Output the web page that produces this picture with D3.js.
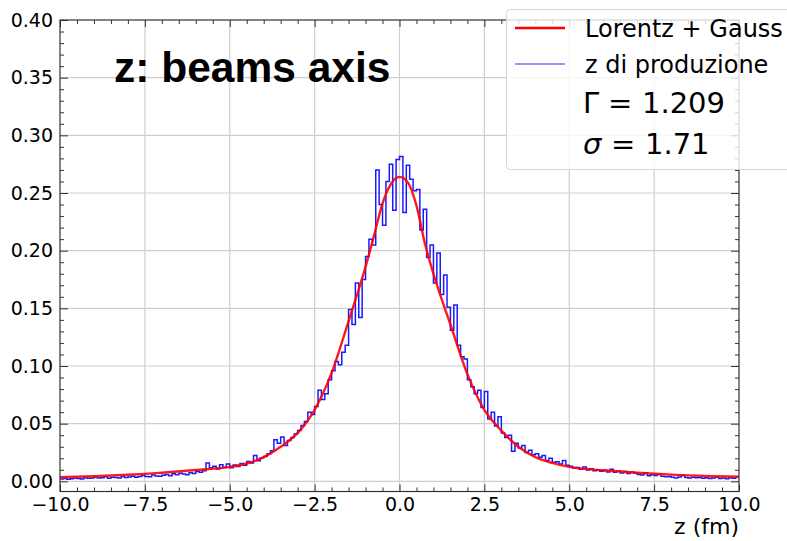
<!DOCTYPE html>
<html>
<head>
<meta charset="utf-8">
<script src="https://cdn.jsdelivr.net/npm/d3@7"></script>
<style>
  body { margin: 0; background: #fff; }
  svg { display: block; }
  .tick text { font-family: "DejaVu Sans", sans-serif; font-size: 19px; fill: #000; }
</style>
</head>
<body>
<svg id="chart" width="787" height="541"></svg>
<script>
// fitted curve (Lorentz + Gauss)
var fitZ = [-10, -9, -8, -7.5, -7, -6, -5, -4.5, -4, -3.5, -3, -2.5, -2, -1.5, -1, -0.75, -0.5, -0.25, 0,
            0.25, 0.5, 0.75, 1, 1.5, 2, 2.5, 3, 3.5, 4, 4.5, 5, 6, 7, 7.5, 8, 9, 10];
var fitY = [0.0036, 0.0044, 0.0057, 0.0065, 0.0075, 0.0098, 0.0125, 0.0155, 0.021, 0.030, 0.042, 0.062, 0.094, 0.139, 0.186, 0.213, 0.241, 0.258, 0.264,
            0.259, 0.239, 0.206, 0.180, 0.136, 0.093, 0.062, 0.044, 0.030, 0.021, 0.016, 0.0125, 0.0096, 0.0075, 0.0066, 0.0058, 0.0046, 0.0040];

// histogram of production z, bins of 0.1 fm starting at -10
var binStart = -10, binWidth = 0.1;
var histY = [
  0.0020, 0.0025, 0.0018, 0.0022, 0.0030, 0.0024, 0.0021, 0.0032, 0.0026, 0.0029,
  0.0035, 0.0028, 0.0031, 0.0040, 0.0027, 0.0036, 0.0033, 0.0030, 0.0042, 0.0034,
  0.0038, 0.0045, 0.0036, 0.0041, 0.0050, 0.0043, 0.0039, 0.0055, 0.0047, 0.0044,
  0.0052, 0.0060, 0.0049, 0.0066, 0.0058, 0.0071, 0.0063, 0.0057, 0.0075, 0.0068,
  0.0085, 0.0078, 0.0092, 0.0160, 0.0118, 0.0132, 0.0108, 0.0145, 0.0122, 0.0150,
  0.0118, 0.0142, 0.0128, 0.0155, 0.0140, 0.0172, 0.0160, 0.0225, 0.0178, 0.0205,
  0.0215, 0.0240, 0.0265, 0.0360, 0.0330, 0.0385, 0.0310, 0.0355, 0.0380, 0.0410,
  0.0440, 0.0485, 0.0520, 0.0600, 0.0580, 0.0650, 0.0790, 0.0710, 0.0760, 0.0880,
  0.0960, 0.1040, 0.1010, 0.1120, 0.1180, 0.1490, 0.1360, 0.1720, 0.1420, 0.1750,
  0.1950, 0.2100, 0.2050, 0.2700, 0.2400, 0.2220, 0.2600, 0.2750, 0.2350, 0.2790,
  0.2816, 0.2330, 0.2740, 0.2620, 0.2520, 0.2530, 0.2180, 0.2360, 0.1940, 0.2050,
  0.1720, 0.1980, 0.1620, 0.1790, 0.1510, 0.1310, 0.1530, 0.1180, 0.1080, 0.1060,
  0.0880, 0.0820, 0.0760, 0.0790, 0.0640, 0.0780, 0.0540, 0.0600, 0.0480, 0.0560,
  0.0420, 0.0380, 0.0400, 0.0260, 0.0330, 0.0290, 0.0310, 0.0250, 0.0270, 0.0230,
  0.0240, 0.0210, 0.0225, 0.0180, 0.0200, 0.0165, 0.0170, 0.0150, 0.0180, 0.0140,
  0.0130, 0.0115, 0.0120, 0.0105, 0.0125, 0.0098, 0.0110, 0.0092, 0.0100, 0.0088,
  0.0095, 0.0082, 0.0105, 0.0078, 0.0090, 0.0072, 0.0085, 0.0068, 0.0080, 0.0070,
  0.0060, 0.0055, 0.0075, 0.0048, 0.0058, 0.0050, 0.0062, 0.0045, 0.0040, 0.0043,
  0.0035, 0.0030, 0.0038, 0.0050, 0.0033, 0.0028, 0.0036, 0.0031, 0.0034, 0.0027,
  0.0032, 0.0025, 0.0030, 0.0036, 0.0024, 0.0029, 0.0022, 0.0031, 0.0026, 0.0038
];

var xTicks = [-10, -7.5, -5, -2.5, 0, 2.5, 5, 7.5, 10];
var yTicks = [0, 0.05, 0.10, 0.15, 0.20, 0.25, 0.30, 0.35, 0.40];
var legendLabels = ["Lorentz + Gauss", "z di produzione"];
var gammaText = "1.209", sigmaText = "1.71";

var plotL = 60, plotR = 739, plotT = 20, plotB = 491.5;
var svg = d3.select("#chart");

var x = d3.scaleLinear().domain([-10, 10]).range([plotL, plotR]);
var y = d3.scaleLinear().domain([-0.0088, 0.40]).range([plotB, plotT]);

// grid
var grid = svg.append("g");
grid.selectAll(".gx").data(xTicks.slice(1, -1)).enter().append("line")
    .attr("x1", function(d) { return x(d); }).attr("x2", function(d) { return x(d); })
    .attr("y1", plotT).attr("y2", plotB)
    .attr("stroke", "#cfcfcf").attr("stroke-width", 1.2);
grid.selectAll(".gy").data(yTicks.slice(0, -1)).enter().append("line")
    .attr("x1", plotL).attr("x2", plotR)
    .attr("y1", function(d) { return y(d); }).attr("y2", function(d) { return y(d); })
    .attr("stroke", "#cfcfcf").attr("stroke-width", 1.2);

svg.append("defs").append("clipPath").attr("id", "clip")
    .append("rect").attr("x", plotL).attr("y", plotT).attr("width", plotR - plotL).attr("height", plotB - plotT);

// histogram as a step line
var histPts = histY.map(function(v, i) { return [binStart + i * binWidth, v]; });
histPts.push([binStart + histY.length * binWidth, histY[histY.length - 1]]);
var stepLine = d3.line()
    .x(function(d) { return x(d[0]); })
    .y(function(d) { return y(d[1]); })
    .curve(d3.curveStepAfter);
svg.append("path").datum(histPts)
    .attr("clip-path", "url(#clip)")
    .attr("fill", "none").attr("stroke", "#1a1aff").attr("stroke-width", 1.5)
    .attr("d", stepLine);

// fit
var fitLine = d3.line()
    .x(function(d, i) { return x(fitZ[i]); })
    .y(function(d) { return y(d); })
    .curve(d3.curveMonotoneX);
svg.append("path").datum(fitY)
    .attr("clip-path", "url(#clip)")
    .attr("fill", "none").attr("stroke", "#ff0000").attr("stroke-width", 2.4).attr("opacity", 0.9)
    .attr("d", fitLine);

// axes, ticks pointing inward, on all four sides
function minor(lo, hi, step) {
    var out = [];
    for (var v = lo; v <= hi + 1e-9; v += step) out.push(+v.toFixed(4));
    return out;
}
var xMinor = minor(-10, 10, 0.5).filter(function(v) { return xTicks.indexOf(v) < 0; });
var yMinor = minor(0, 0.40, 0.01).filter(function(v) { return yTicks.map(function(t) { return t.toFixed(2); }).indexOf(v.toFixed(2)) < 0; });

var fmt = function(d) { return d3.format(".1f")(d).replace("-", "\u2212"); };

var xAxis = d3.axisBottom(x).tickValues(xTicks).tickFormat(fmt).tickSizeInner(-7).tickSizeOuter(0).tickPadding(6);
svg.append("g").attr("transform", "translate(0," + plotB + ")").call(xAxis);
svg.append("g").attr("transform", "translate(0," + plotB + ")")
    .call(d3.axisBottom(x).tickValues(xMinor).tickFormat("").tickSizeInner(-4).tickSizeOuter(0));
svg.append("g").attr("transform", "translate(0," + plotT + ")")
    .call(d3.axisTop(x).tickValues(xTicks).tickFormat("").tickSizeInner(-7).tickSizeOuter(0));
svg.append("g").attr("transform", "translate(0," + plotT + ")")
    .call(d3.axisTop(x).tickValues(xMinor).tickFormat("").tickSizeInner(-4).tickSizeOuter(0));

var yAxis = d3.axisLeft(y).tickValues(yTicks).tickFormat(d3.format(".2f")).tickSizeInner(-8).tickSizeOuter(0).tickPadding(7);
svg.append("g").attr("transform", "translate(" + plotL + ",0)").call(yAxis);
svg.append("g").attr("transform", "translate(" + plotL + ",0)")
    .call(d3.axisLeft(y).tickValues(yMinor).tickFormat("").tickSizeInner(-4).tickSizeOuter(0));
svg.append("g").attr("transform", "translate(" + plotR + ",0)")
    .call(d3.axisRight(y).tickValues(yTicks).tickFormat("").tickSizeInner(-8).tickSizeOuter(0));
svg.append("g").attr("transform", "translate(" + plotR + ",0)")
    .call(d3.axisRight(y).tickValues(yMinor).tickFormat("").tickSizeInner(-4).tickSizeOuter(0));

svg.selectAll(".domain").remove();
svg.selectAll(".tick line").attr("stroke", "#333").attr("stroke-width", 1);
svg.append("rect").attr("x", plotL).attr("y", plotT).attr("width", plotR - plotL).attr("height", plotB - plotT)
    .attr("fill", "none").attr("stroke", "#333").attr("stroke-width", 1.2);

// x label
svg.append("text").attr("x", plotR).attr("y", 534).attr("text-anchor", "end")
    .style("font-family", "DejaVu Sans, sans-serif").style("font-size", "22px")
    .text("z (fm)");

// title
svg.append("text").attr("x", 114).attr("y", 82)
    .style("font-family", "Liberation Sans, Arial, sans-serif").style("font-size", "42.5px").style("font-weight", "bold")
    .text("z: beams axis");

// legend
var lg = svg.append("g");
lg.append("rect").attr("x", 506.5).attr("y", 9.5).attr("width", 300).attr("height", 160).attr("rx", 4)
    .attr("fill", "#fff").attr("fill-opacity", 0.8).attr("stroke", "#d6d6d6").attr("stroke-width", 1);
lg.append("line").attr("x1", 515).attr("x2", 565).attr("y1", 28).attr("y2", 28)
    .attr("stroke", "#ff0000").attr("stroke-width", 2.4);
lg.append("line").attr("x1", 515).attr("x2", 565).attr("y1", 64).attr("y2", 64)
    .attr("stroke", "#7373ff").attr("stroke-width", 1.5);
lg.selectAll(".lbl").data(legendLabels).enter().append("text")
    .attr("x", 585).attr("y", function(d, i) { return 37 + i * 36; })
    .style("font-family", "DejaVu Sans, sans-serif").style("font-size", "24px")
    .text(function(d) { return d; });

var mathFont = function(sel) {
    return sel.style("font-family", "DejaVu Sans, sans-serif").style("font-size", "29px");
};
mathFont(lg.append("text").attr("x", 583).attr("y", 113)).text("\u0393");
mathFont(lg.append("text").attr("x", 608).attr("y", 113)).text("=");
mathFont(lg.append("text").attr("x", 642).attr("y", 113)).text(gammaText);
mathFont(lg.append("text").attr("x", 583).attr("y", 154)).style("font-style", "italic").text("\u03c3");
mathFont(lg.append("text").attr("x", 611).attr("y", 154)).text("=");
mathFont(lg.append("text").attr("x", 645).attr("y", 154)).text(sigmaText);
</script>
</body>
</html>
